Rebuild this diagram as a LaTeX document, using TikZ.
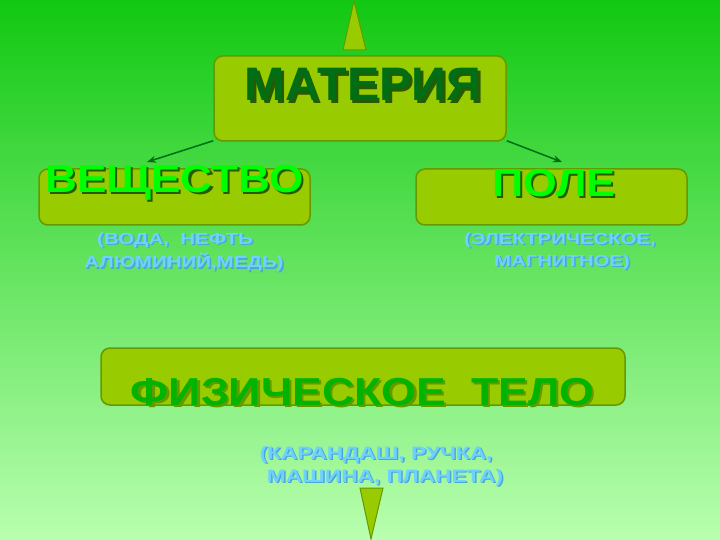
\documentclass[tikz,border=0pt]{standalone}
\usepackage{fontspec}
\setmainfont{Liberation Sans}
\usetikzlibrary{arrows.meta}
\definecolor{bgtop}{RGB}{18,200,18}
\definecolor{bgbot}{RGB}{185,255,175}
\definecolor{boxfill}{RGB}{153,204,0}
\definecolor{boxline}{RGB}{102,153,0}
\definecolor{darkgreen}{RGB}{0,110,20}
\definecolor{shadowgreen}{RGB}{40,90,0}
\definecolor{brightgreen}{RGB}{0,255,0}
\definecolor{midgreen}{RGB}{0,180,0}
\definecolor{lblue}{RGB}{110,210,255}
\definecolor{dblue}{RGB}{80,165,215}
% #1 x-scale, #2 font size, #3 shadow colour, #4 text colour, #5 offset, #6 text
\newcommand{\shtext}[6]{%
  \scalebox{#1}[1]{\fontsize{#2}{#2}\selectfont\bfseries
  \makebox[0pt][l]{\hspace{#5}\raisebox{-#5}{\color{#3}#6}}\color{#4}#6}}
\begin{document}
\begin{tikzpicture}[x=1pt,y=-1pt,
  box/.style={draw=boxline, line width=1.5pt, fill=boxfill, rounded corners=9pt, inner sep=0pt},
  tri/.style={draw=boxline, line width=1pt, fill=boxfill},
  conn/.style={draw=darkgreen, line width=1.5pt, -{Stealth[length=9pt,width=7pt]}},
  lbl/.style={inner sep=0pt, anchor=center}
]
\useasboundingbox (0,0) rectangle (720,540);
\shade[top color=bgtop, bottom color=bgbot] (0,0) rectangle (720,540);

% triangles
\filldraw[tri] (354,1) -- (366,50) -- (343,50) -- cycle;
\filldraw[tri] (360,488) -- (383,488) -- (371,539) -- cycle;

% boxes
\node[box, minimum width=292pt, minimum height=85pt] (mat) at (360,98.5) {};
\node[box, minimum width=271pt, minimum height=56pt] (vesh) at (174.5,197) {};
\node[box, minimum width=271pt, minimum height=56pt] (pole) at (551.5,197) {};
\node[box, minimum width=524pt, minimum height=57pt] (fiz) at (363,376.5) {};

% titles with shadows
\node[lbl] (tmat) at (363,86) {\shtext{1.03}{47pt}{shadowgreen}{darkgreen}{2.5pt}{МАТЕРИЯ}};
\node[lbl] (tvesh) at (174.5,184) {\shtext{1.13}{39pt}{shadowgreen}{brightgreen}{2pt}{ВЕЩЕСТВО}};
\node[lbl] (tpole) at (554,184) {\shtext{1.11}{39pt}{shadowgreen}{brightgreen}{2pt}{ПОЛЕ}};
\node[lbl] (tfiz) at (362.5,393) {\shtext{1.145}{39pt}{boxline}{midgreen}{2pt}{ФИЗИЧЕСКОЕ~~ТЕЛО}};

% blue labels
\foreach \x/\y/\s/\f/\t/\n in {175/241/1.28/16pt/{(ВОДА,~~НЕФТЬ}/a1, 184/263/1.28/16pt/{АЛЮМИНИЙ,МЕДЬ)}/a2,
                         560/241/1.27/16pt/{(ЭЛЕКТРИЧЕСКОЕ,}/b1, 562/263/1.27/16pt/{МАГНИТНОЕ)}/b2,
                         376/455/1.26/18pt/{(КАРАНДАШ, РУЧКА,}/c1, 385/478/1.26/18pt/{МАШИНА, ПЛАНЕТА)}/c2}{
  \node[lbl] (\n) at (\x,\y) {\shtext{\s}{\f}{dblue}{lblue}{1.2pt}{\t}};
}

% connectors
\coordinate (vt) at (147,162);
\coordinate (pt) at (562,162);
\draw[conn] (mat.south west) ++(0,-1) -- (vt);
\draw[conn] (mat.south east) ++(0,-1) -- (pt);
\end{tikzpicture}
\end{document}
